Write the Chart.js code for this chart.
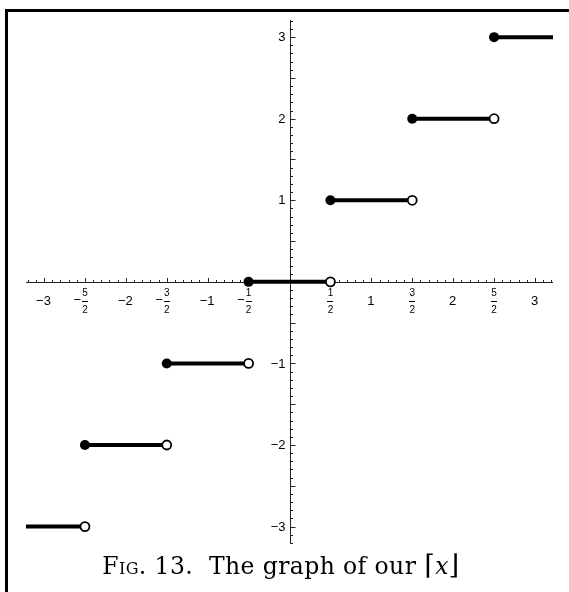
<!DOCTYPE html>
<html>
<head>
<meta charset="utf-8">
<script src="https://cdn.jsdelivr.net/npm/chart.js@4.4.0/dist/chart.umd.min.js"></script>
<style>
  html, body { margin: 0; padding: 0; background: #fff; }
  #wrap { position: relative; width: 569px; height: 592px; overflow: hidden; }
  #frame { position: absolute; left: 5px; top: 9px; width: 700px; height: 700px;
           border-left: 3px solid #000; border-top: 3px solid #000; }
  #plot { position: absolute; left: 0; top: 0; }
  #caption { position: absolute; left: 0; top: 551px; width: 562px; text-align: center;
             font-family: "DejaVu Serif", "Liberation Serif", serif; font-size: 23.5px; color: #000;
             letter-spacing: 0.4px; white-space: nowrap; font-weight: normal; }
  #caption .sc { font-variant: small-caps; }
  #caption i { font-style: italic; }
  #caption .br { font-size: 1.15em; line-height: 1; }
</style>
</head>
<body>
<div id="wrap">
  <div id="frame"></div>
  <canvas id="plot" width="569" height="550"></canvas>
  <div id="caption"><span class="sc">Fig.</span> 13.&nbsp; The graph of our <span class="br">⌈</span><i>x</i><span class="br">⌋</span></div>
</div>
<script>
// steps of the graph: value k on [start, end)
const stepValues = [-3, -2, -1, 0, 1, 2, 3];
const stepStarts = [-3.22, -2.5, -1.5, -0.5, 0.5, 1.5, 2.5];
const stepEnds   = [-2.5, -1.5, -0.5, 0.5, 1.5, 2.5, 3.22];

// filled dots (left ends) and open dots (right ends)
const closedX = [-2.5, -1.5, -0.5, 0.5, 1.5, 2.5];
const closedY = [-2, -1, 0, 1, 2, 3];
const openX = [-2.5, -1.5, -0.5, 0.5, 1.5, 2.5];
const openY = [-3, -2, -1, 0, 1, 2];

// tick labels
const xTickValues = [-3, -2.5, -2, -1.5, -1, -0.5, 0.5, 1, 1.5, 2, 2.5, 3];
const xTickLabels = ['−3', '−5/2', '−2', '−3/2', '−1', '−1/2', '1/2', '1', '3/2', '2', '5/2', '3'];
const yTickValues = [-3, -2, -1, 1, 2, 3];
const yTickLabels = ['−3', '−2', '−1', '1', '2', '3'];

const xMin = -3.22, xMax = 3.22;
const yMin = -3.21, yMax = 3.21;

const segmentPoints = [];
stepValues.forEach((v, i) => {
  segmentPoints.push({x: stepStarts[i], y: v});
  segmentPoints.push({x: stepEnds[i], y: v});
  segmentPoints.push({x: stepEnds[i], y: null});
});

const labelFont = '"Liberation Sans", Arial, sans-serif';

// axes through the origin, ticks pointing inward, fraction labels
const axesPlugin = {
  id: 'originAxes',
  beforeDatasetsDraw(chart) {
    const ctx = chart.ctx;
    const xs = chart.scales.x, ys = chart.scales.y;
    const x0 = Math.round(xs.getPixelForValue(0)) + 0.5;
    const y0 = Math.round(ys.getPixelForValue(0)) + 0.5;
    ctx.save();
    ctx.strokeStyle = '#222';
    ctx.lineWidth = 1;
    ctx.beginPath();
    ctx.moveTo(xs.left, y0); ctx.lineTo(xs.right, y0);
    ctx.moveTo(x0, ys.top); ctx.lineTo(x0, ys.bottom);
    for (let i = -32; i <= 32; i++) {
      const px = Math.round(xs.getPixelForValue(i / 10)) + 0.5;
      const len = i % 5 === 0 ? 4.5 : 2.5;
      ctx.moveTo(px, y0); ctx.lineTo(px, y0 - len);
    }
    for (let i = -32; i <= 32; i++) {
      const py = Math.round(ys.getPixelForValue(i / 10)) + 0.5;
      const len = i % 5 === 0 ? 5 : 2.5;
      ctx.moveTo(x0, py); ctx.lineTo(x0 + len, py);
    }
    ctx.stroke();

    ctx.fillStyle = '#000';
    ctx.textBaseline = 'middle';
    // y labels
    ctx.font = '13px ' + labelFont;
    ctx.textAlign = 'right';
    yTickValues.forEach((v, i) => {
      ctx.fillText(yTickLabels[i], x0 - 5, ys.getPixelForValue(v) + 0.5);
    });
    // x labels
    xTickValues.forEach((v, i) => {
      const lab = xTickLabels[i];
      const px = xs.getPixelForValue(v);
      if (lab.indexOf('/') < 0) {
        ctx.font = '13px ' + labelFont;
        ctx.textAlign = 'center';
        ctx.fillText(lab, px - 0.5, y0 + 19);
        return;
      }
      const neg = lab[0] === '−';
      const parts = (neg ? lab.slice(1) : lab).split('/');
      ctx.font = '10px ' + labelFont;
      ctx.textAlign = 'center';
      ctx.fillText(parts[0], px, y0 + 10.5);
      ctx.fillText(parts[1], px, y0 + 27.5);
      ctx.fillRect(Math.round(px - 3), Math.round(y0 + 18), 6, 1);
      if (neg) {
        ctx.font = '13px ' + labelFont;
        ctx.fillText('−', px - 7.5, y0 + 18);
      }
    });
    ctx.restore();
  }
};

new Chart(document.getElementById('plot'), {
  type: 'scatter',
  data: {
    datasets: [
      {
        label: 'closed',
        data: closedX.map((x, i) => ({x: x, y: closedY[i]})),
        pointRadius: 5,
        pointBackgroundColor: '#000',
        pointBorderColor: '#000',
        pointBorderWidth: 0,
        clip: false
      },
      {
        label: 'open',
        data: openX.map((x, i) => ({x: x, y: openY[i]})),
        pointRadius: 4.5,
        pointBackgroundColor: '#fff',
        pointBorderColor: '#000',
        pointBorderWidth: 1.8,
        clip: false
      },
      {
        label: 'steps',
        type: 'line',
        data: segmentPoints,
        borderColor: '#000',
        borderWidth: 4,
        pointRadius: 0,
        spanGaps: false,
        borderCapStyle: 'butt',
        clip: false
      }
    ]
  },
  options: {
    responsive: false,
    animation: false,
    events: [],
    layout: { padding: { left: 26, right: 16, top: 20, bottom: 3 } },
    scales: {
      x: { type: 'linear', min: xMin, max: xMax, display: false },
      y: { type: 'linear', min: yMin, max: yMax, display: false }
    },
    plugins: { legend: { display: false }, tooltip: { enabled: false } }
  },
  plugins: [axesPlugin]
});
</script>
</body>
</html>
